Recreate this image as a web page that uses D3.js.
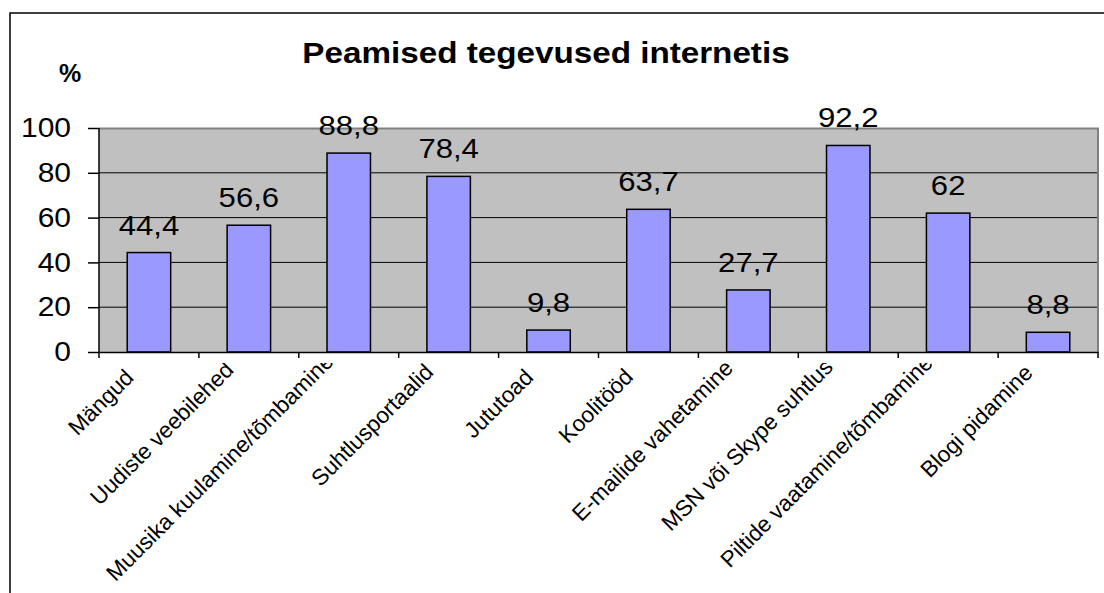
<!DOCTYPE html>
<html>
<head>
<meta charset="utf-8">
<script src="https://d3js.org/d3.v7.min.js"></script>
<style>
  body { margin: 0; background: #fff; }
  text { font-family: Arial, "Liberation Sans", sans-serif; fill: #000; }
</style>
</head>
<body>
<script>
// data
var categories = ["Mängud", "Uudiste veebilehed", "Muusika kuulamine/tõmbamine", "Suhtlusportaalid",
  "Jututoad", "Koolitööd", "E-mailide vahetamine", "MSN või Skype suhtlus",
  "Piltide vaatamine/tõmbamine", "Blogi pidamine"];
var values = [44.4, 56.6, 88.8, 78.4, 9.8, 63.7, 27.7, 92.2, 62, 8.8];
var yTicks = [0, 20, 40, 60, 80, 100];

var W = 1104, H = 593;
var margin = { top: 128, right: 6, bottom: 241, left: 99 };
var width = W - margin.left - margin.right,
    height = H - margin.top - margin.bottom;

// the original is a bit wider than tall, so stretch text sideways
function stretch(sel, k) {
  sel.each(function () {
    var len = this.getComputedTextLength();
    d3.select(this).attr("textLength", len * k).attr("lengthAdjust", "spacingAndGlyphs");
  });
}

var svg = d3.select("body").append("svg")
  .attr("width", W)
  .attr("height", H);

// outer chart border (runs off the page right and bottom)
svg.append("rect")
  .attr("x", 10).attr("y", 13)
  .attr("width", W + 20).attr("height", H + 20)
  .attr("fill", "#fff")
  .attr("stroke", "#000")
  .attr("stroke-width", 1.5);

var g = svg.append("g")
  .attr("transform", "translate(" + margin.left + "," + margin.top + ")");

var x = d3.scaleBand()
  .domain(categories)
  .range([0, width])
  .paddingInner(0.565)
  .paddingOuter(0.2825);

var xb = d3.scaleBand().domain(categories).range([0, width]);

var y = d3.scaleLinear()
  .domain([0, 100])
  .range([height, 0]);

// plot area
g.append("rect")
  .attr("width", width).attr("height", height)
  .attr("fill", "#c0c0c0");

// gridlines
g.selectAll(".grid")
  .data(yTicks.filter(function (d) { return d > 0 && d < 100; }))
  .enter().append("line")
  .attr("x1", 0).attr("x2", width)
  .attr("y1", function (d) { return y(d); })
  .attr("y2", function (d) { return y(d); })
  .attr("stroke", "#000")
  .attr("stroke-width", 1);

// plot border top/right
g.append("path")
  .attr("d", "M0," + 0.5 + "H" + width + "V" + height)
  .attr("fill", "none")
  .attr("stroke", "#808080")
  .attr("stroke-width", 2);

// bars
g.selectAll(".bar")
  .data(values)
  .enter().append("rect")
  .attr("x", function (d, i) { return x(categories[i]); })
  .attr("y", function (d) { return y(d); })
  .attr("width", x.bandwidth())
  .attr("height", function (d) { return height - y(d); })
  .attr("fill", "#9999ff")
  .attr("stroke", "#000")
  .attr("stroke-width", 1.5);

// value labels
g.selectAll(".val")
  .data(values)
  .enter().append("text")
  .attr("x", function (d, i) { return x(categories[i]) + x.bandwidth() / 2; })
  .attr("y", function (d) { return y(d) - 18; })
  .attr("text-anchor", "middle")
  .style("font-size", "28px")
  .text(function (d) { return String(d).replace(".", ","); })
  .call(stretch, 1.11);

// y axis
var yAxis = g.append("g")
  .call(d3.axisLeft(y).tickValues(yTicks).tickSize(11).tickPadding(17));
yAxis.select(".domain").attr("stroke", "#000").attr("stroke-width", 1.5)
  .attr("d", "M0," + height + "V0");
yAxis.selectAll(".tick line").attr("stroke", "#000").attr("stroke-width", 1.5);
yAxis.selectAll(".tick text")
  .style("font-size", "27px")
  .style("font-family", "Arial, 'Liberation Sans', sans-serif")
  .attr("fill", "#000")
  .call(stretch, 1.11);

// x axis
var xAxis = g.append("g")
  .attr("transform", "translate(0," + height + ")")
  .call(d3.axisBottom(xb).tickSize(0).tickFormat(""));
xAxis.select(".domain").attr("stroke", "#000").attr("stroke-width", 1.5);
xAxis.selectAll(".sep")
  .data(d3.range(categories.length + 1))
  .enter().append("line")
  .attr("x1", function (i) { return i * xb.step(); })
  .attr("x2", function (i) { return i * xb.step(); })
  .attr("y1", 0).attr("y2", 6)
  .attr("stroke", "#000").attr("stroke-width", 1.5);

// category labels, clipped at the top like the original
g.append("clipPath").attr("id", "catclip")
  .append("rect")
  .attr("x", -margin.left).attr("y", height + 11)
  .attr("width", W).attr("height", 300);

var cats = g.append("g").attr("clip-path", "url(#catclip)")
  .selectAll(".cat")
  .data(categories)
  .enter().append("text")
  .attr("text-anchor", "end")
  .style("font-size", "22.5px")
  .text(function (d) { return d; });

// longer labels sit a little higher in the original
cats.attr("transform", function (d) {
  var len = this.getComputedTextLength();
  var lift = Math.max(0, len - 80) * 0.07;
  return "translate(" + (xb(d) + xb.bandwidth() / 2 - 14) + "," + (height + 27 - lift) + ") rotate(-45)";
});

// title and unit
svg.append("text")
  .attr("x", 546).attr("y", 63)
  .attr("text-anchor", "middle")
  .style("font-size", "30px")
  .style("font-weight", "bold")
  .text("Peamised tegevused internetis")
  .call(stretch, 1.107);

svg.append("text")
  .attr("x", 70).attr("y", 82)
  .attr("text-anchor", "middle")
  .style("font-size", "25px")
  .style("font-weight", "bold")
  .text("%");
</script>
</body>
</html>
